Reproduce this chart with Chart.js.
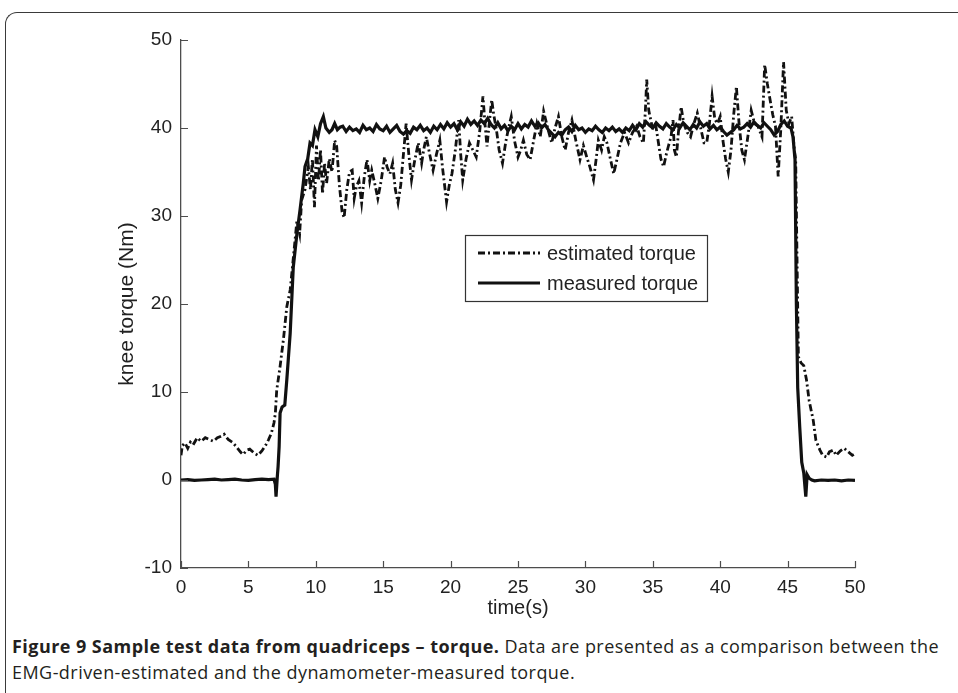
<!DOCTYPE html>
<html>
<head>
<meta charset="utf-8">
<script src="https://cdn.jsdelivr.net/npm/chart.js"></script>
<style>
  html, body { margin: 0; padding: 0; background: #fff; }
  body { width: 958px; height: 693px; position: relative; overflow: hidden; }
  #frame {
    position: absolute; left: 5px; top: 12px; width: 1000px; height: 720px;
    border-left: 1.5px solid #3a3a3a; border-top: 1.5px solid #3a3a3a;
    border-top-left-radius: 12px;
  }
  #plot { position: absolute; left: 0; top: 0; }
  #caption {
    position: absolute; left: 12px; top: 633px;
    font-family: "Open Sans", "Noto Sans", sans-serif; font-size: 18px;
    letter-spacing: 0.45px; line-height: 26px; color: #231f20; white-space: nowrap;
  }
</style>
</head>
<body>
<div id="frame"></div>
<canvas id="plot" width="958" height="625"></canvas>
<div id="caption"><b>Figure 9 Sample test data from quadriceps – torque.</b> Data are presented as a comparison between the<br>EMG-driven-estimated and the dynamometer-measured torque.</div>
<script>
// estimated torque (EMG-driven), time in s / torque in Nm
const estTime = [
  0, 0.1, 0.3, 0.5, 0.7, 0.9, 1.2, 1.5, 1.8, 2.1,
  2.4, 2.7, 3.0, 3.2, 3.5, 3.8, 4.1, 4.4, 4.6, 4.9,
  5.1, 5.4, 5.7, 6.0, 6.3, 6.5, 6.7, 6.9, 7.0, 7.1,
  7.35, 7.6, 7.85, 8.1, 8.35, 8.6, 8.8, 8.95, 9.2, 9.45,
  9.6, 9.75, 9.9, 10.05, 10.2, 10.35, 10.5, 10.65, 10.8, 11.0,
  11.2, 11.4, 11.55, 11.75, 11.95, 12.1, 12.3, 12.5, 12.7, 12.85,
  13.0, 13.2, 13.4, 13.6, 13.8, 14.0, 14.15, 14.4, 14.6, 14.85,
  15.1, 15.3, 15.5, 15.7, 15.9, 16.1, 16.3, 16.5, 16.7, 16.9,
  17.1, 17.3, 17.6, 17.85, 18.0, 18.2, 18.45, 18.7, 18.95, 19.2,
  19.4, 19.7, 19.9, 20.1, 20.35, 20.6, 20.75, 20.9, 21.15, 21.4,
  21.65, 21.9, 22.15, 22.4, 22.55, 22.7, 22.9, 23.05, 23.2, 23.4,
  23.6, 23.85, 24.1, 24.3, 24.5, 24.75, 25.0, 25.2, 25.4, 25.65,
  25.9, 26.15, 26.4, 26.65, 26.9, 27.2, 27.5, 27.75, 28.0, 28.25,
  28.5, 28.75, 29.0, 29.3, 29.6, 29.85, 30.1, 30.35, 30.6, 30.8,
  30.96, 31.2, 31.4, 31.6, 31.85, 32.1, 32.35, 32.6, 32.9, 33.2,
  33.5, 33.8, 34.05, 34.3, 34.45, 34.55, 34.7, 35.0, 35.2, 35.4,
  35.6, 35.8, 36.0, 36.15, 36.35, 36.5, 36.6, 36.75, 36.9, 37.1,
  37.3, 37.55, 37.8, 38.05, 38.3, 38.55, 38.8, 39.0, 39.2, 39.4,
  39.6, 39.8, 40.0, 40.2, 40.4, 40.6, 40.8, 41.0, 41.2, 41.4,
  41.6, 41.8, 42.05, 42.3, 42.55, 42.8, 43.1, 43.3, 43.5, 43.7,
  43.9, 44.1, 44.3, 44.5, 44.7, 44.9, 45.1, 45.3, 45.5, 45.6,
  45.7, 45.8, 46.0, 46.2, 46.4, 46.6, 46.9, 47.1, 47.4, 47.6,
  47.9, 48.1, 48.4, 48.6, 48.9, 49.2, 49.5, 49.8, 50.0
];
const estTorque = [
  2.8, 3.9, 4.2, 3.6, 4.3, 4.0, 4.8, 4.4, 4.8, 4.6,
  4.4, 4.8, 5.0, 5.2, 4.6, 4.3, 3.8, 3.2, 2.9, 3.4,
  3.5, 3.1, 2.8, 3.3, 4.0, 4.6, 5.3, 6.5, 7.6, 10.2,
  12.9, 16.0, 19.7, 21.6, 25.5, 29.5, 28.0, 31.8, 33.0, 35.6,
  33.0, 36.5, 31.0, 38.0, 34.0, 37.5, 32.5, 36.0, 33.7, 36.5,
  35.0, 38.6, 37.9, 33.5, 30.5, 29.8, 33.0, 35.0, 35.2, 32.0,
  33.3, 34.0, 31.5, 34.5, 36.4, 34.0, 35.2, 33.5, 32.0, 34.0,
  36.7, 35.5, 34.8, 36.0, 33.0, 31.5, 33.5, 37.0, 40.5, 37.0,
  34.1, 36.0, 38.3, 36.0, 37.5, 39.0, 37.0, 35.2, 37.0, 38.6,
  35.5, 31.6, 33.5, 34.8, 37.5, 40.9, 37.0, 34.1, 36.5, 38.3,
  37.5, 36.7, 39.5, 43.6, 40.5, 37.9, 41.0, 43.2, 41.5, 39.8,
  37.5, 36.0, 38.5, 40.0, 41.3, 38.5, 36.7, 37.5, 38.6, 37.0,
  36.4, 38.5, 40.5, 39.0, 41.9, 40.0, 38.3, 40.0, 41.3, 39.0,
  37.5, 39.5, 40.9, 38.5, 36.4, 38.0, 36.7, 35.5, 34.1, 36.5,
  38.6, 37.5, 39.0, 38.3, 36.5, 34.8, 36.5, 38.3, 39.5, 38.3,
  39.5, 40.2, 39.0, 38.3, 42.0, 45.5, 42.0, 39.8, 40.5, 38.5,
  36.5, 35.6, 37.0, 37.9, 39.0, 40.9, 37.5, 36.7, 39.5, 42.4,
  40.5, 39.5, 39.0, 40.5, 41.7, 40.0, 38.3, 38.3, 40.5, 43.6,
  41.0, 40.5, 41.3, 38.6, 36.5, 35.0, 37.5, 41.5, 44.7, 40.5,
  37.5, 36.4, 39.0, 42.0, 40.5, 40.2, 39.0, 47.2, 45.0, 43.2,
  41.5, 40.2, 34.5, 40.0, 47.5, 42.0, 40.5, 41.3, 37.5, 36.4,
  25.0, 14.0, 13.3, 13.0, 11.4, 9.0, 6.8, 4.5, 3.4, 2.8,
  2.6, 3.2, 3.4, 2.8, 3.3, 3.6, 3.2, 2.8, 3.0
];

// measured torque (dynamometer)
const measTime = [
  0, 0.5, 1, 1.5, 2, 2.5, 3, 3.5, 4, 4.5,
  5, 5.5, 6, 6.5, 6.9, 7.0, 7.05, 7.15, 7.2, 7.28,
  7.35, 7.5, 7.7, 7.85, 8.1, 8.33, 8.6, 8.83, 9.07, 9.2,
  9.4, 9.57, 9.75, 9.94, 10.15, 10.35, 10.56, 10.75, 11.0, 11.2,
  11.4, 11.6, 11.8,
  12, 12.25, 12.5, 12.75, 13, 13.25, 13.5, 13.75, 14, 14.25, 14.5, 14.75, 15, 15.25, 15.5, 15.75, 16, 16.25, 16.5, 16.75,
  17, 17.25, 17.5, 17.75, 18, 18.25, 18.5, 18.75, 19, 19.25, 19.5, 19.75, 20, 20.25, 20.5, 20.75, 21, 21.25, 21.5, 21.75,
  22, 22.25, 22.5, 22.75, 23, 23.25, 23.5, 23.75, 24, 24.25, 24.5, 24.75, 25, 25.25, 25.5, 25.75, 26, 26.25, 26.5, 26.75,
  27, 27.25, 27.5, 27.75, 28, 28.25, 28.5, 28.75, 29, 29.25, 29.5, 29.75, 30, 30.25, 30.5, 30.75, 31, 31.25, 31.5, 31.75,
  32, 32.25, 32.5, 32.75, 33, 33.25, 33.5, 33.75, 34, 34.25, 34.5, 34.75, 35, 35.25, 35.5, 35.75, 36, 36.25, 36.5, 36.75,
  37, 37.25, 37.5, 37.75, 38, 38.25, 38.5, 38.75, 39, 39.25, 39.5, 39.75, 40, 40.25, 40.5, 40.75, 41, 41.25, 41.5, 41.75,
  42, 42.25, 42.5, 42.75, 43, 43.25, 43.5, 43.75, 44, 44.25, 44.5, 44.75, 45, 45.25,
  45.4, 45.55, 45.65, 45.75, 45.9, 46.05, 46.2, 46.35, 46.45, 46.6,
  46.8, 47, 47.5, 48, 48.5, 49, 49.5, 50
];
const measTorque = [
  0.0, 0.05, -0.05, 0.0, 0.05, 0.1, 0.0, 0.05, 0.1, 0.0,
  -0.05, 0.05, 0.1, 0.05, 0.1, -0.5, -1.9, 0.5, 1.5, 3.8,
  7.6, 8.3, 8.5, 11.4, 16.7, 24.2, 28.0, 30.7, 33.7, 35.6,
  36.5, 38.3, 38.0, 39.8, 39.0, 40.5, 41.3, 40.0, 39.5, 39.8,
  40.5, 39.8, 40.1,
  40.2, 39.6, 40.1, 39.7, 39.9, 39.5, 40.3, 39.8, 40.0, 39.6, 40.4, 39.9, 39.7, 40.2, 39.5, 39.9, 40.3, 39.6, 39.3, 39.7,
  39.4, 40.1, 39.8, 40.3, 39.7, 40.0, 39.5, 40.2, 39.8, 40.4, 39.9, 40.6, 40.1, 40.5, 39.8, 40.7, 40.2, 41.0, 40.4, 40.8,
  40.3, 40.9, 40.5, 41.1, 40.4, 40.0, 40.6, 39.9, 40.3, 39.7, 40.2, 39.8, 40.5, 39.9, 40.4, 40.1, 40.8, 40.2, 40.6, 40.0,
  40.4, 39.8, 39.4, 39.0, 39.5, 39.2, 39.8, 40.1, 39.6, 40.3, 39.8, 40.0, 39.5, 39.9, 39.7, 40.2, 39.8, 39.5, 40.0, 39.7,
  40.1, 39.6, 39.9, 39.5, 40.0, 39.7, 40.3, 39.8, 40.5, 40.1, 40.7, 40.3, 40.0, 40.6, 40.2, 39.9, 40.5, 40.1, 39.8, 40.4,
  40.0, 40.6, 40.2, 39.8, 40.4, 40.0, 40.7, 40.2, 40.5, 39.9, 40.3, 39.8, 40.1, 39.6, 39.2, 39.5, 39.8, 40.3, 39.9, 40.1,
  40.5, 40.1, 40.7, 40.3, 40.0, 40.6, 40.2, 39.8, 39.2, 39.6, 40.4, 40.8, 40.2, 40.0,
  39.0, 36.4, 20.0, 10.5, 6.0, 2.0, 0.8, -1.9, 0.6, 0.2,
  0.0, -0.1, 0.0, -0.05, 0.0, -0.1, 0.0, -0.05
];

const seriesLabels = ['estimated torque', 'measured torque'];
const xTicks = [0, 5, 10, 15, 20, 25, 30, 35, 40, 45, 50];
const yTicks = [-10, 0, 10, 20, 30, 40, 50];

const axisColor = '#4d4d4d';
const lineColor = '#111111';
const fontFamily = '"Liberation Sans", Arial, Helvetica, sans-serif';

const toPoints = (xs, ys) => xs.map((x, i) => ({ x: x, y: ys[i] }));

// MATLAB style ticks pointing into the plot
const inwardTicks = {
    id: 'inwardTicks',
    afterDraw(chart) {
        const { ctx, chartArea } = chart;
        const x = chart.scales.x, y = chart.scales.y;
        ctx.save();
        ctx.strokeStyle = axisColor;
        ctx.lineWidth = 1.2;
        ctx.beginPath();
        xTicks.forEach(v => {
            const px = Math.round(x.getPixelForValue(v)) + 0.5;
            ctx.moveTo(px, chartArea.bottom);
            ctx.lineTo(px, chartArea.bottom - 7);
        });
        yTicks.forEach(v => {
            const py = Math.round(y.getPixelForValue(v)) + 0.5;
            ctx.moveTo(chartArea.left, py);
            ctx.lineTo(chartArea.left + 7, py);
        });
        ctx.stroke();
        ctx.restore();
    }
};

// legend box inside the plot
const boxLegend = {
    id: 'boxLegend',
    afterDraw(chart) {
        const ctx = chart.ctx;
        const bx = 465, by = 235, bw = 242, bh = 66;
        ctx.save();
        ctx.fillStyle = '#fff';
        ctx.fillRect(bx, by, bw, bh);
        ctx.strokeStyle = '#333';
        ctx.lineWidth = 1.2;
        ctx.strokeRect(bx + 0.5, by + 0.5, bw, bh);
        ctx.font = '20px ' + fontFamily;
        ctx.textBaseline = 'middle';
        chart.data.datasets.forEach((ds, i) => {
            const ly = by + 18 + i * 30;
            ctx.strokeStyle = ds.borderColor;
            ctx.lineWidth = ds.borderWidth;
            ctx.setLineDash(ds.borderDash || []);
            ctx.beginPath();
            ctx.moveTo(bx + 13, ly);
            ctx.lineTo(bx + 75, ly);
            ctx.stroke();
            ctx.setLineDash([]);
            ctx.fillStyle = '#222';
            ctx.fillText(ds.label, bx + 82, ly + 1);
        });
        ctx.restore();
    }
};

new Chart(document.getElementById('plot'), {
    type: 'scatter',
    data: {
        datasets: [
            {
                label: seriesLabels[0],
                data: toPoints(estTime, estTorque),
                showLine: true,
                borderColor: lineColor,
                borderWidth: 2.8,
                borderDash: [7, 3, 2, 3],
                pointRadius: 0,
                tension: 0
            },
            {
                label: seriesLabels[1],
                data: toPoints(measTime, measTorque),
                showLine: true,
                borderColor: lineColor,
                borderWidth: 3.2,
                pointRadius: 0,
                tension: 0
            }
        ]
    },
    options: {
        responsive: false,
        animation: false,
        devicePixelRatio: 1,
        layout: { padding: { left: 106, top: 40, right: 103, bottom: 0 } },
        plugins: { legend: { display: false }, tooltip: { enabled: false } },
        scales: {
            x: {
                type: 'linear', min: 0, max: 50,
                afterFit: s => { s.height = 57; },
                afterBuildTicks: s => { s.ticks = xTicks.map(v => ({ value: v })); },
                grid: { display: false, drawTicks: false },
                border: { display: true, color: axisColor, width: 1.3 },
                ticks: { color: '#222', padding: 8, font: { family: fontFamily, size: 19 } },
                title: { display: true, text: 'time(s)', color: '#222', padding: { bottom: 5 },
                         font: { family: fontFamily, size: 20 } }
            },
            y: {
                type: 'linear', min: -10, max: 50,
                afterFit: s => { s.width = 75; },
                afterBuildTicks: s => { s.ticks = yTicks.map(v => ({ value: v })); },
                grid: { display: false, drawTicks: false },
                border: { display: true, color: axisColor, width: 1.3 },
                ticks: { color: '#222', padding: 9, font: { family: fontFamily, size: 19 } },
                title: { display: true, text: 'knee torque (Nm)', color: '#222', padding: { top: 9 },
                         font: { family: fontFamily, size: 21 } }
            }
        }
    },
    plugins: [inwardTicks, boxLegend]
});
</script>
</body>
</html>
